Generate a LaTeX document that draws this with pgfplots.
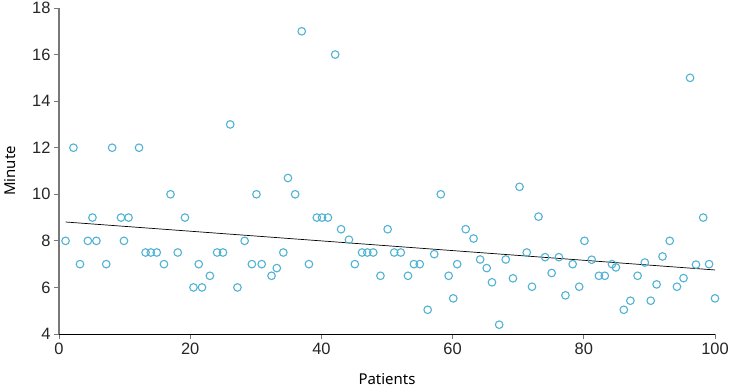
\documentclass[border=0pt]{standalone}
\usepackage{fontspec}
\setmainfont{Liberation Sans}
\newfontfamily\labelfont{Noto Sans}
\usepackage{pgfplots}
\pgfplotsset{compat=1.18}
\definecolor{pt}{RGB}{80,178,212}
\definecolor{axgray}{RGB}{120,120,120}
\begin{document}
\begin{tikzpicture}
\useasboundingbox (-59bp,-55bp) rectangle (671bp,334bp);
\begin{axis}[
  scale only axis,
  width=656bp, height=326bp,
  xmin=0, xmax=100, ymin=4, ymax=18,
  xtick={0,20,...,100}, ytick={4,6,...,18},
  axis x line*=bottom, axis y line*=left,
  x axis line style={black, line width=0.6pt, -},
  y axis line style={axgray, line width=1.2pt, -},
  tick align=outside,
  major tick length=5bp,
  every tick/.style={axgray, line width=0.8pt},
  tick label style={font=\fontsize{16.5}{18}\selectfont, text=black!85},
  /pgf/number format/assume math mode=true,
  xlabel={\labelfont\fontsize{15}{17}\selectfont Patients},
  ylabel={\labelfont\fontsize{15}{17}\selectfont Minute},
  xlabel style={yshift=-12bp},
  ylabel style={yshift=10bp},
  clip=false,
]
\addplot[only marks, mark=o, mark size=3.8bp, mark options={draw=pt, line width=1.1pt}] coordinates {
(1,8) (2.2,12) (3.2,7) (4.4,8) (5.1,9) (5.7,8) (7.2,7) (8.1,12) (9.45,9) (9.9,8)
(10.6,9) (12.2,12) (13.2,7.5) (14.0,7.5) (14.9,7.5) (16.0,7) (17.0,10) (18.1,7.5) (19.2,9) (20.5,6)
(21.3,7) (21.8,6) (23.0,6.5) (24.1,7.5) (25.0,7.5) (26.1,13) (27.2,6) (28.3,8) (29.4,7) (30.1,10)
(30.9,7) (32.4,6.5) (33.2,6.83) (34.2,7.5) (34.9,10.7) (36.0,10) (37.0,17) (38.1,7) (39.3,9) (40.1,9)
(41.0,9) (42.1,16) (43.0,8.5) (44.2,8.05) (45.1,7) (46.2,7.5) (47.0,7.5) (47.9,7.5) (49.0,6.5) (50.1,8.5)
(51.1,7.5) (52.1,7.5) (53.2,6.5) (54.1,7) (55.0,7) (56.2,5.04) (57.2,7.43) (58.2,10) (59.4,6.5) (60.1,5.53)
(60.7,7) (62.0,8.5) (63.2,8.1) (64.2,7.2) (65.2,6.83) (66.0,6.22) (67.1,4.4) (68.1,7.2) (69.2,6.39) (70.2,10.32)
(71.3,7.5) (72.1,6.03) (73.1,9.04) (74.1,7.3) (75.1,6.62) (76.2,7.3) (77.2,5.66) (78.3,7.0) (79.3,6.03) (80.1,8)
(81.2,7.19) (82.3,6.5) (83.2,6.5) (84.3,7.0) (84.9,6.86) (86.1,5.04) (87.1,5.43) (88.2,6.5) (89.3,7.07) (90.2,5.43)
(91.1,6.13) (92.0,7.33) (93.1,8) (94.2,6.03) (95.2,6.4) (96.2,15) (97.1,6.98) (98.2,9) (99.1,7) (100,5.53)
};
\addplot[black, line width=0.7pt] coordinates {(1,8.81) (100,6.75)};
\end{axis}
\end{tikzpicture}
\end{document}
